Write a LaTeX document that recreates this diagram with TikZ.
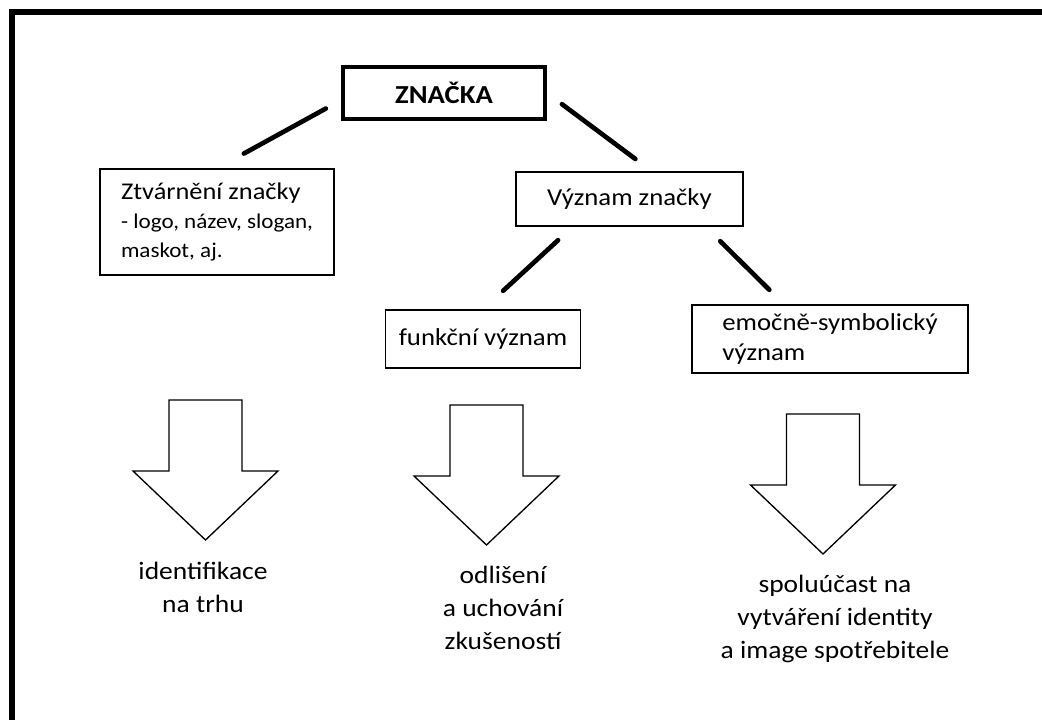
\documentclass[tikz,border=0pt]{standalone}
\usepackage{fontspec}
\setmainfont{Carlito}[FakeStretch=1.1]

\begin{document}
\begin{tikzpicture}[x=0.75pt,y=-0.75pt,
  box/.style={draw,line width=1pt,inner sep=0pt,font=\fontsize{18.25}{22}\selectfont},
  link/.style={line width=3.5pt,line cap=round},
  result/.style={align=center,font=\fontsize{18.75}{24.75}\selectfont}]
\useasboundingbox (0,0) rectangle (1042,720);
\fill[white] (0,0) rectangle (1042,720);

% frame
\draw[line width=4.5pt] (12,740) -- (12,12) -- (1060,12);

% boxes
\node[box,line width=3pt,minimum width=151.5pt,minimum height=39pt,
  font=\bfseries\fontsize{19.5}{22}\selectfont] (znacka) at (444,93) {ZNAČKA};
\node[box,minimum width=175.5pt,minimum height=79.5pt,align=left,
  font=\fontsize{15.75}{21.5}\selectfont] (ztvar) at (217,222)
  {{\fontsize{18}{22}\selectfont Ztvárnění značky}\\- logo, název, slogan,\\maskot, aj.};
\node[box,minimum width=170.25pt,minimum height=40.5pt] (vyznam) at (629.5,199) {Význam značky};
\node[box,minimum width=146.25pt,minimum height=43.5pt] (funkcni) at (483,339) {funkční význam};
\node[box,minimum width=207pt,minimum height=51pt,align=left] (emoc) at (830,339)
  {emočně-symbolický\\význam};

% links
\draw[link,shorten <=13pt,shorten >=23pt] (znacka.184) -- (ztvar.north);
\draw[link,shorten <=14pt,shorten >=15.5pt] (znacka.east) -- (vyznam.51);
\draw[link,shorten <=15pt,shorten >=20.5pt] (vyznam.206) -- (funkcni.north);
\draw[link,shorten <=15.5pt,shorten >=15.5pt] (vyznam.340) -- (emoc.143);

% big arrows
\foreach \cx/\ty in {205.5/400,486.5/405,823/414}
  \draw[line width=1pt,fill=white] (\cx-36.5,\ty) -- (\cx+36.5,\ty) -- (\cx+36.5,\ty+71)
    -- (\cx+72.5,\ty+71) -- (\cx,\ty+140) -- (\cx-72.5,\ty+71) -- (\cx-36.5,\ty+71) -- cycle;

% results
\node[result] (ident) at (203,587) {identifikace\\na trhu};
\node[result] (odlis) at (503,608) {odlišení\\a uchování\\zkušeností};
\node[result] (spolu) at (835,619) {spoluúčast na\\vytváření identity\\a image spotřebitele};
\end{tikzpicture}
\end{document}
